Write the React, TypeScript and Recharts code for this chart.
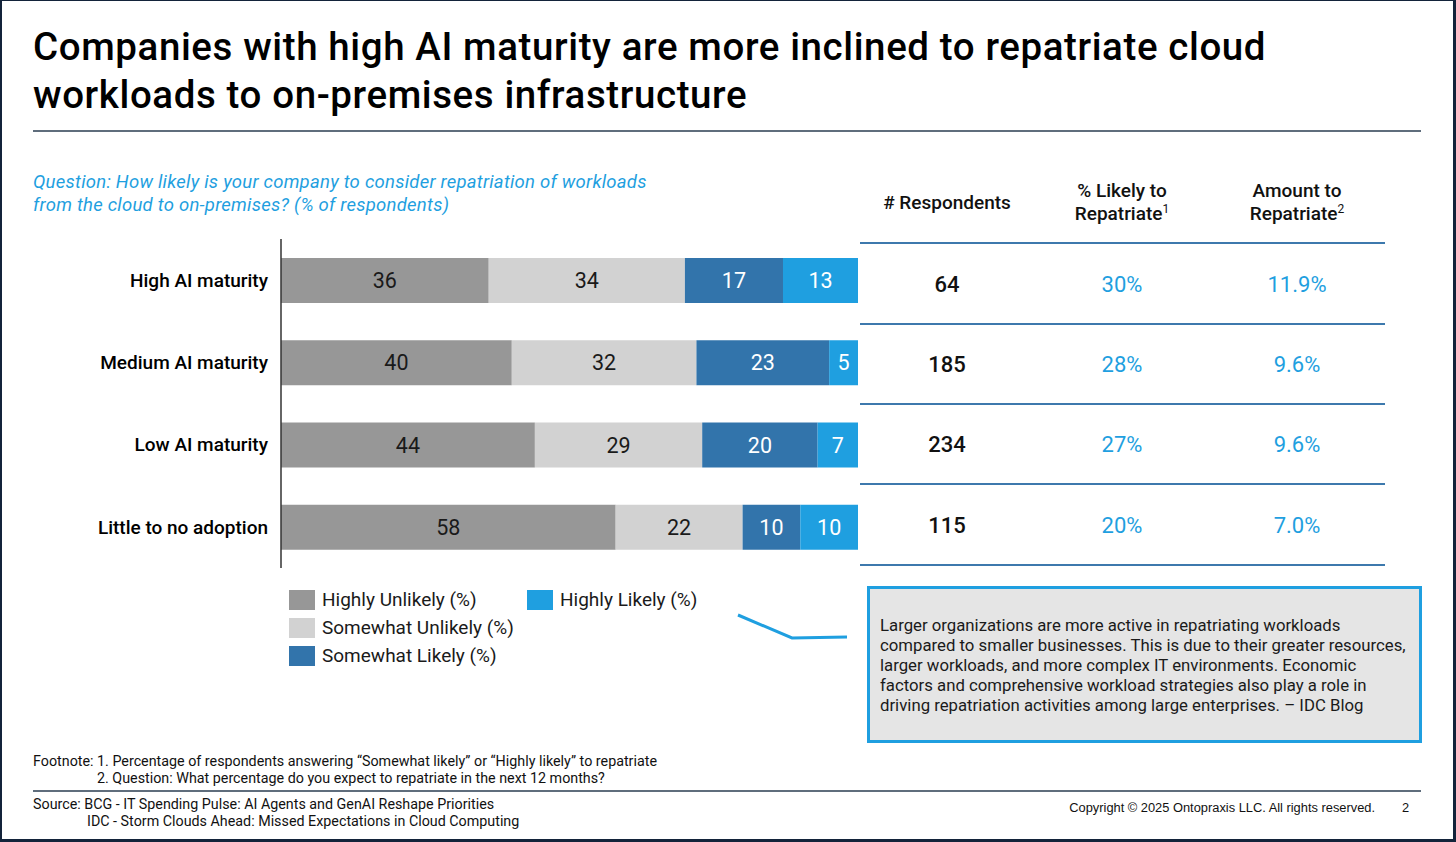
import React from 'react';
import { BarChart, Bar, XAxis, YAxis, LabelList } from 'recharts';

const categories = ['High AI maturity', 'Medium AI maturity', 'Low AI maturity', 'Little to no adoption'];
const highlyUnlikely = [36, 40, 44, 58];
const somewhatUnlikely = [34, 32, 29, 22];
const somewhatLikely = [17, 23, 20, 10];
const highlyLikely = [13, 5, 7, 10];
const respondents = [64, 185, 234, 115];
const likelyToRepatriate = ['30%', '28%', '27%', '20%'];
const amountToRepatriate = ['11.9%', '9.6%', '9.6%', '7.0%'];

const seriesNames = ['Highly Unlikely (%)', 'Somewhat Unlikely (%)', 'Somewhat Likely (%)', 'Highly Likely (%)'];
const seriesKeys = ['hu', 'su', 'sl', 'hl'];
const seriesColors = ['#979797', '#d2d2d2', '#3274ab', '#1f9fe0'];
const labelColors = ['#1a1a1a', '#1a1a1a', '#ffffff', '#ffffff'];

const data = categories.map((name, i) => ({
  name,
  hu: highlyUnlikely[i],
  su: somewhatUnlikely[i],
  sl: somewhatLikely[i],
  hl: highlyLikely[i],
}));

const FONT = 'Roboto, "Noto Sans", sans-serif';
const ARIAL = '"Liberation Sans", Arial, sans-serif';
const BLUE = '#1f9fe0';
const LINE = '#3d79ad';

const abs = (left: number, top: number, extra: React.CSSProperties = {}): React.CSSProperties => ({
  position: 'absolute',
  left,
  top,
  ...extra,
});

const rowCenters = [285, 365, 445, 526];
const rowLines = [243, 324, 404, 484, 565];
const colCenters = [947, 1122, 1297];

export default function App() {
  return (
    <div
      style={{
        position: 'absolute',
        left: 0,
        top: 0,
        width: 1456,
        height: 842,
        background: '#ffffff',
        fontFamily: FONT,
        overflow: 'hidden',
      }}
    >
      <div style={abs(33, 23, { width: 1400, fontSize: 38.5, letterSpacing: 0.6, fontWeight: 500, lineHeight: '48px', color: '#000', whiteSpace: 'nowrap' })}>
        Companies with high AI maturity are more inclined to repatriate cloud
        <br />
        workloads to on-premises infrastructure
      </div>
      <div style={abs(33, 130, { width: 1388, height: 2, background: '#5f6d7c' })} />

      <div style={abs(33, 171, { fontSize: 18.5, letterSpacing: 0.25, fontStyle: 'italic', color: BLUE, lineHeight: '23px', whiteSpace: 'nowrap' })}>
        Question: How likely is your company to consider repatriation of workloads
        <br />
        from the cloud to on-premises? (% of respondents)
      </div>

      <div style={abs(0, 229)}>
        <BarChart
          width={870}
          height={349}
          data={data}
          layout="vertical"
          margin={{ top: 10, right: 12, bottom: 10, left: 0 }}
        >
          <XAxis type="number" domain={[0, 100]} hide />
          <YAxis
            type="category"
            dataKey="name"
            width={281}
            axisLine={{ stroke: '#333333', strokeWidth: 1.5 }}
            tickLine={false}
            tickMargin={7}
            tick={{ fill: '#000', fontSize: 19, fontWeight: 500, fontFamily: FONT }}
          />
          {seriesKeys.map((k, i) => (
            <Bar key={k} dataKey={k} name={seriesNames[i]} stackId="a" fill={seriesColors[i]} barSize={45} isAnimationActive={false}>
              <LabelList dataKey={k} position="center" fill={labelColors[i]} fontSize={21.5} fontFamily={FONT} />
            </Bar>
          ))}
        </BarChart>
      </div>

      {/* Table header */}
      <div style={abs(colCenters[0] - 100, 191, { width: 200, textAlign: 'center', fontSize: 19, fontWeight: 500, lineHeight: '23px', color: '#111' })}>
        # Respondents
      </div>
      <div style={abs(colCenters[1] - 100, 179, { width: 200, textAlign: 'center', fontSize: 19, fontWeight: 500, lineHeight: '23px', color: '#111' })}>
        % Likely to
        <br />
        Repatriate<sup style={{ fontSize: 12, fontWeight: 400, verticalAlign: 'top', lineHeight: '14px' }}>1</sup>
      </div>
      <div style={abs(colCenters[2] - 100, 179, { width: 200, textAlign: 'center', fontSize: 19, fontWeight: 500, lineHeight: '23px', color: '#111' })}>
        Amount to
        <br />
        Repatriate<sup style={{ fontSize: 12, fontWeight: 400, verticalAlign: 'top', lineHeight: '14px' }}>2</sup>
      </div>
      {rowLines.map((y, i) => (
        <div key={'l' + i} style={abs(860, y - 1, { width: 525, height: 2, background: LINE })} />
      ))}
      {categories.map((c, i) => (
        <React.Fragment key={'r' + i}>
          <div style={abs(colCenters[0] - 80, rowCenters[i] - 14, { width: 160, textAlign: 'center', fontSize: 22, fontWeight: 500, lineHeight: '28px', color: '#111' })}>
            {respondents[i]}
          </div>
          <div style={abs(colCenters[1] - 80, rowCenters[i] - 14, { width: 160, textAlign: 'center', fontSize: 22, lineHeight: '28px', color: BLUE })}>
            {likelyToRepatriate[i]}
          </div>
          <div style={abs(colCenters[2] - 80, rowCenters[i] - 14, { width: 160, textAlign: 'center', fontSize: 22, lineHeight: '28px', color: BLUE })}>
            {amountToRepatriate[i]}
          </div>
        </React.Fragment>
      ))}

      {/* Legend */}
      {seriesNames.map((n, i) => {
        const col = i === 3 ? 1 : 0;
        const row = i === 3 ? 0 : i;
        const left = col === 0 ? 289 : 527;
        const cy = 600 + row * 28;
        return (
          <div key={'lg' + i} style={abs(left, cy - 12, { height: 24, display: 'flex', alignItems: 'center', whiteSpace: 'nowrap' })}>
            <div style={{ width: 26, height: 20, background: seriesColors[i], marginRight: 7 }} />
            <span style={{ fontSize: 19, color: '#1a1a1a', lineHeight: '24px' }}>{n}</span>
          </div>
        );
      })}

      <svg style={abs(0, 0)} width={1456} height={842}>
        <polyline points="738,615 792,638 847,637" fill="none" stroke={BLUE} strokeWidth={3} />
      </svg>

      {/* Callout */}
      <div
        style={abs(867, 586, {
          width: 555,
          height: 157,
          boxSizing: 'border-box',
          border: '3px solid ' + BLUE,
          background: '#e5e5e5',
        })}
      />
      <div style={abs(880, 615, { width: 540, fontSize: 16.75, lineHeight: '20px', color: '#1a1a1a', whiteSpace: 'nowrap' })}>
        Larger organizations are more active in repatriating workloads
        <br />
        compared to smaller businesses. This is due to their greater resources,
        <br />
        larger workloads, and more complex IT environments. Economic
        <br />
        factors and comprehensive workload strategies also play a role in
        <br />
        driving repatriation activities among large enterprises. – IDC Blog
      </div>

      {/* Footnote */}
      <div style={abs(33, 753, { fontSize: 14.3, lineHeight: '17px', color: '#111', whiteSpace: 'nowrap' })}>
        Footnote: 1. Percentage of respondents answering “Somewhat likely” or “Highly likely” to repatriate
      </div>
      <div style={abs(97, 770, { fontSize: 14.3, lineHeight: '17px', color: '#111', whiteSpace: 'nowrap' })}>
        2. Question: What percentage do you expect to repatriate in the next 12 months?
      </div>
      <div style={abs(33, 790, { width: 1388, height: 2, background: '#5f6d7c' })} />
      <div style={abs(33, 796, { fontSize: 14.3, lineHeight: '17px', color: '#111', whiteSpace: 'nowrap' })}>
        Source: BCG - IT Spending Pulse: AI Agents and GenAI Reshape Priorities
      </div>
      <div style={abs(87, 813, { fontSize: 14.3, lineHeight: '17px', color: '#111', whiteSpace: 'nowrap' })}>
        IDC - Storm Clouds Ahead: Missed Expectations in Cloud Computing
      </div>
      <div style={abs(975, 799, { width: 400, textAlign: 'right', fontFamily: ARIAL, fontSize: 12.85, lineHeight: '17px', color: '#111', whiteSpace: 'nowrap' })}>
        Copyright © 2025 Ontopraxis LLC. All rights reserved.
      </div>
      <div style={abs(1402, 799, { fontFamily: ARIAL, fontSize: 12.85, lineHeight: '17px', color: '#111' })}>
        2
      </div>

      {/* Frame */}
      <div
        style={abs(0, 0, {
          width: 1456,
          height: 842,
          boxSizing: 'border-box',
          borderTop: '1px solid #13233a',
          borderLeft: '2px solid #13233a',
          borderRight: '3px solid #13233a',
          borderBottom: '3px solid #13233a',
          pointerEvents: 'none',
        })}
      />
    </div>
  );
}
